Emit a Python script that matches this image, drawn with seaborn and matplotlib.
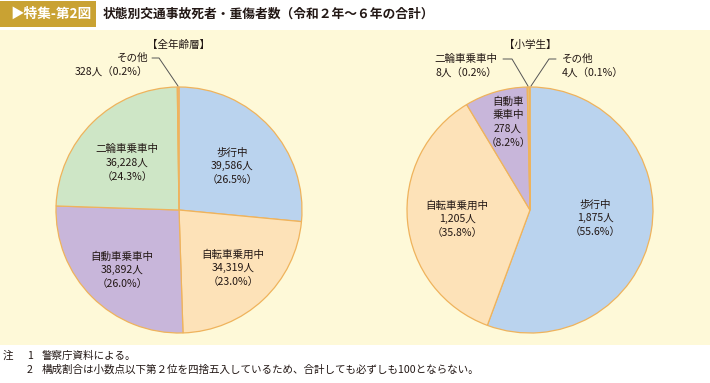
import matplotlib
matplotlib.use("Agg")
import matplotlib.pyplot as plt
from matplotlib.patches import Rectangle
import seaborn as sns

# data
categories = ["歩行中", "自転車乗用中", "自動車乗車中", "二輪車乗車中", "その他"]
all_ages = [39586, 34319, 38892, 36228, 328]
all_ages_pct = [26.5, 23.0, 26.0, 24.3, 0.2]
pupils = [1875, 1205, 278, 8, 4]
pupils_pct = [55.6, 35.8, 8.2, 0.2, 0.1]
colors = ["#bad3ee", "#fde2b8", "#c8b6da", "#cee6c6", "#f4ad7c"]

sns.set_theme(style="white")
plt.rcParams["font.family"] = ["Noto Sans CJK JP", "DejaVu Sans"]

W, H = 710, 383
fig = plt.figure(figsize=(W / 100, H / 100), dpi=100)
ax = fig.add_axes([0, 0, 1, 1])

edge = "#efb35c"
txt = "#231815"

# pies (y axis inverted -> counterclock=True draws clockwise on screen)
for vals, cx in [(all_ages, 179), (pupils, 530)]:
    ax.pie(vals, colors=colors, startangle=-90, counterclock=True,
           center=(cx, 210), radius=123,
           wedgeprops=dict(edgecolor=edge, linewidth=0.9))

ax.set_xlim(0, W)
ax.set_ylim(H, 0)
ax.set_aspect("auto")
ax.axis("off")

# background panel and header
ax.add_patch(Rectangle((0, 30), W, 315, facecolor="#fef9d8", edgecolor="none", zorder=-5))
ax.add_patch(Rectangle((0, 1), 96, 26, facecolor="#c9a233", edgecolor="none", zorder=-4))
ax.text(10, 14, "▶特集-第2図", color="white", fontsize=9.8, fontweight="bold", va="center", ha="left")
ax.text(103, 14, "状態別交通事故死者・重傷者数（令和２年～６年の合計）", color=txt,
        fontsize=9.2, fontweight="bold", va="center", ha="left")

fs = 7.6
ax.text(179, 45, "【全年齢層】", fontsize=fs, ha="center", va="center", color=txt)
ax.text(530, 45, "【小学生】", fontsize=fs, ha="center", va="center", color=txt)


def lab(name, n, p):
    return f"{name}\n{n:,}人\n（{p}%）"


ls = 1.45
# left pie labels
ax.text(232, 166, lab(categories[0], all_ages[0], all_ages_pct[0]), fontsize=fs, ha="center", va="center", color=txt, linespacing=ls)
ax.text(233, 268, lab(categories[1], all_ages[1], all_ages_pct[1]), fontsize=fs, ha="center", va="center", color=txt, linespacing=ls)
ax.text(122, 270, lab(categories[2], all_ages[2], all_ages_pct[2]), fontsize=fs, ha="center", va="center", color=txt, linespacing=ls)
ax.text(127, 163, lab(categories[3], all_ages[3], all_ages_pct[3]), fontsize=fs, ha="center", va="center", color=txt, linespacing=ls)
ax.text(148, 65, f"{categories[4]}\n{all_ages[4]:,}人（{all_ages_pct[4]}%）", fontsize=fs,
        ha="right", va="center", color=txt, linespacing=ls, multialignment="right")
ax.plot([152, 159, 178], [58, 58, 86], color="#555555", lw=0.7)

# right pie labels
ax.text(595, 218, lab(categories[0], pupils[0], pupils_pct[0]), fontsize=fs, ha="center", va="center", color=txt, linespacing=ls)
ax.text(457, 219, lab(categories[1], pupils[1], pupils_pct[1]), fontsize=fs, ha="center", va="center", color=txt, linespacing=ls)
ax.text(508, 122, f"自動車\n乗車中\n{pupils[2]:,}人\n（{pupils_pct[2]}%）", fontsize=fs,
        ha="center", va="center", color=txt, linespacing=ls)
ax.text(497, 66, f"{categories[3]}\n{pupils[3]:,}人（{pupils_pct[3]}%）", fontsize=fs,
        ha="right", va="center", color=txt, linespacing=ls, multialignment="right")
ax.plot([503, 512, 528], [59, 59, 86], color="#555555", lw=0.7)
ax.text(562, 66, f"{categories[4]}\n{pupils[4]:,}人（{pupils_pct[4]}%）", fontsize=fs,
        ha="left", va="center", color=txt, linespacing=ls)
ax.plot([556, 549, 531], [59, 59, 86], color="#555555", lw=0.7)

# notes
nfs = 7.6
ax.text(3, 356, "注", fontsize=nfs, va="center", color=txt)
ax.text(27, 356, "1", fontsize=nfs, va="center", color=txt)
ax.text(42, 356, "警察庁資料による。", fontsize=nfs, va="center", color=txt)
ax.text(27, 370, "2", fontsize=nfs, va="center", color=txt)
ax.text(42, 370, "構成割合は小数点以下第２位を四捨五入しているため、合計しても必ずしも100とならない。",
        fontsize=nfs, va="center", color=txt)

fig.savefig("out.png", dpi=100, facecolor="white")
